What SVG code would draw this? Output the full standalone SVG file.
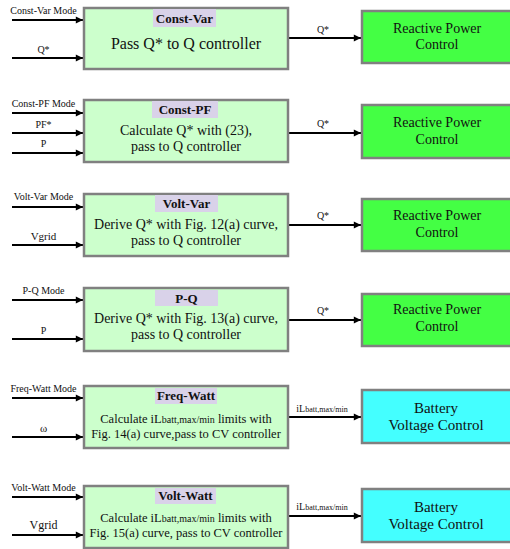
<svg xmlns="http://www.w3.org/2000/svg" width="510" height="549" viewBox="0 0 510 549">
<defs>
<marker id="ah" viewBox="0 0 10 10" refX="10" refY="5" markerWidth="4.5" markerHeight="3.6" markerUnits="strokeWidth" orient="auto">
<path d="M0,0 L10,5 L0,10 z" fill="#000"/>
</marker>
<style>
text{font-family:"Liberation Serif","Times New Roman",serif;fill:#111;}
.blk{fill:#ccffcc;stroke:#808080;stroke-width:2.5;}
.hdr{fill:#d9d2e9;stroke:none;}
.rpc{fill:#44ff44;stroke:#808080;stroke-width:2.5;}
.bvc{fill:#44ffff;stroke:#808080;stroke-width:2.5;}
.ht{font-size:13px;font-weight:bold;text-anchor:middle;}
.bt{font-size:14px;text-anchor:middle;}
.st{font-size:12.5px;text-anchor:middle;}
.ot{font-size:14px;text-anchor:middle;}
.ot2{font-size:15px;text-anchor:middle;}
.lab{font-size:10px;text-anchor:middle;}
.wire{stroke:#000;stroke-width:2;fill:none;marker-end:url(#ah);}
</style>
</defs>

<g id="connectors">
<path class="wire" d="M12,20 H83"/>
<path class="wire" d="M12,58 H83"/>
<path class="wire" d="M288,38 H361"/>
<path class="wire" d="M12,113 H83"/>
<path class="wire" d="M12,133 H83"/>
<path class="wire" d="M12,153 H83"/>
<path class="wire" d="M288,133 H361"/>
<path class="wire" d="M12,207 H83"/>
<path class="wire" d="M12,245 H83"/>
<path class="wire" d="M288,225 H361"/>
<path class="wire" d="M12,300 H83"/>
<path class="wire" d="M12,339 H83"/>
<path class="wire" d="M288,320 H361"/>
<path class="wire" d="M12,398 H83"/>
<path class="wire" d="M12,437 H83"/>
<path class="wire" d="M288,417 H361"/>
<path class="wire" d="M12,497 H83"/>
<path class="wire" d="M12,535 H83"/>
<path class="wire" d="M288,516 H361"/>
<text class="lab" x="43.5" y="14">Const-Var Mode</text>
<text class="lab" x="43.5" y="53">Q*</text>
<text class="lab" x="323" y="33">Q*</text>
<text class="lab" x="43.5" y="107">Const-PF Mode</text>
<text class="lab" x="43.5" y="128">PF*</text>
<text class="lab" x="43.5" y="147">P</text>
<text class="lab" x="323" y="127">Q*</text>
<text class="lab" x="43.5" y="200">Volt-Var Mode</text>
<text class="lab" x="43.5" y="240" style="font-size:11px">Vgrid</text>
<text class="lab" x="323" y="219">Q*</text>
<text class="lab" x="43.5" y="294">P-Q Mode</text>
<text class="lab" x="43.5" y="334">P</text>
<text class="lab" x="323" y="314">Q*</text>
<text class="lab" x="43.5" y="392">Freq-Watt Mode</text>
<text class="lab" x="43.5" y="432" style="font-size:11px">ω</text>
<text class="lab" x="322" y="412">iL<tspan style="font-size:8px">batt,max/min</tspan></text>
<text class="lab" x="43.5" y="491">Volt-Watt Mode</text>
<text class="lab" x="43.5" y="529" style="font-size:12px">Vgrid</text>
<text class="lab" x="322" y="510">iL<tspan style="font-size:8px">batt,max/min</tspan></text>
</g>

<g id="const-var">
<rect class="blk" x="84" y="8" width="204" height="61"/>
<rect class="hdr" x="153" y="9" width="63" height="18"/>
<text class="ht" x="184.5" y="22.5">Const-Var</text>
<text class="bt" x="186" y="49" style="font-size:16px">Pass Q* to Q controller</text>
</g>

<g id="const-pf">
<rect class="blk" x="84" y="100" width="204" height="62"/>
<rect class="hdr" x="152" y="101" width="66" height="17"/>
<text class="ht" x="185" y="114">Const-PF</text>
<text class="bt" x="186" y="135">Calculate Q* with (23),</text>
<text class="bt" x="186" y="151">pass to Q controller</text>
</g>

<g id="volt-var">
<rect class="blk" x="84" y="194" width="204" height="62"/>
<rect class="hdr" x="155" y="195" width="63" height="17"/>
<text class="ht" x="186.5" y="208">Volt-Var</text>
<text class="bt" x="186" y="229">Derive Q* with Fig. 12(a) curve,</text>
<text class="bt" x="186" y="245">pass to Q controller</text>
</g>

<g id="p-q">
<rect class="blk" x="84" y="288" width="204" height="63"/>
<rect class="hdr" x="155" y="290" width="63" height="16"/>
<text class="ht" x="186.5" y="303">P-Q</text>
<text class="bt" x="186" y="323">Derive Q* with Fig. 13(a) curve,</text>
<text class="bt" x="186" y="339">pass to Q controller</text>
</g>

<g id="freq-watt">
<rect class="blk" x="84" y="386" width="204" height="62"/>
<rect class="hdr" x="155" y="388" width="62" height="16"/>
<text class="ht" x="186" y="400">Freq-Watt</text>
<text class="st" x="186" y="423">Calculate iL<tspan style="font-size:10px">batt,max/min</tspan> limits with</text>
<text class="st" x="186" y="438">Fig. 14(a) curve,pass to CV controller</text>
</g>

<g id="volt-watt">
<rect class="blk" x="84" y="486" width="204" height="62"/>
<rect class="hdr" x="155" y="488" width="61" height="16"/>
<text class="ht" x="185.5" y="500">Volt-Watt</text>
<text class="st" x="186" y="522">Calculate iL<tspan style="font-size:10px">batt,max/min</tspan> limits with</text>
<text class="st" x="186" y="537">Fig. 15(a) curve, pass to CV controller</text>
</g>

<g id="rpc-1">
<rect class="rpc" x="362" y="11" width="152" height="52"/>
<text class="ot" x="437" y="33">Reactive Power</text>
<text class="ot" x="437" y="49">Control</text>
</g>
<g id="rpc-2">
<rect class="rpc" x="362" y="105" width="152" height="53"/>
<text class="ot" x="437" y="127">Reactive Power</text>
<text class="ot" x="437" y="144">Control</text>
</g>
<g id="rpc-3">
<rect class="rpc" x="362" y="199" width="152" height="52"/>
<text class="ot" x="437" y="220">Reactive Power</text>
<text class="ot" x="437" y="237">Control</text>
</g>
<g id="rpc-4">
<rect class="rpc" x="362" y="294" width="152" height="52"/>
<text class="ot" x="437" y="314">Reactive Power</text>
<text class="ot" x="437" y="331">Control</text>
</g>
<g id="bvc-1">
<rect class="bvc" x="362" y="390" width="152" height="53"/>
<text class="ot2" x="436" y="413">Battery</text>
<text class="ot2" x="436" y="430">Voltage Control</text>
</g>
<g id="bvc-2">
<rect class="bvc" x="362" y="489" width="152" height="53"/>
<text class="ot2" x="436" y="512">Battery</text>
<text class="ot2" x="436" y="529">Voltage Control</text>
</g>
</svg>
